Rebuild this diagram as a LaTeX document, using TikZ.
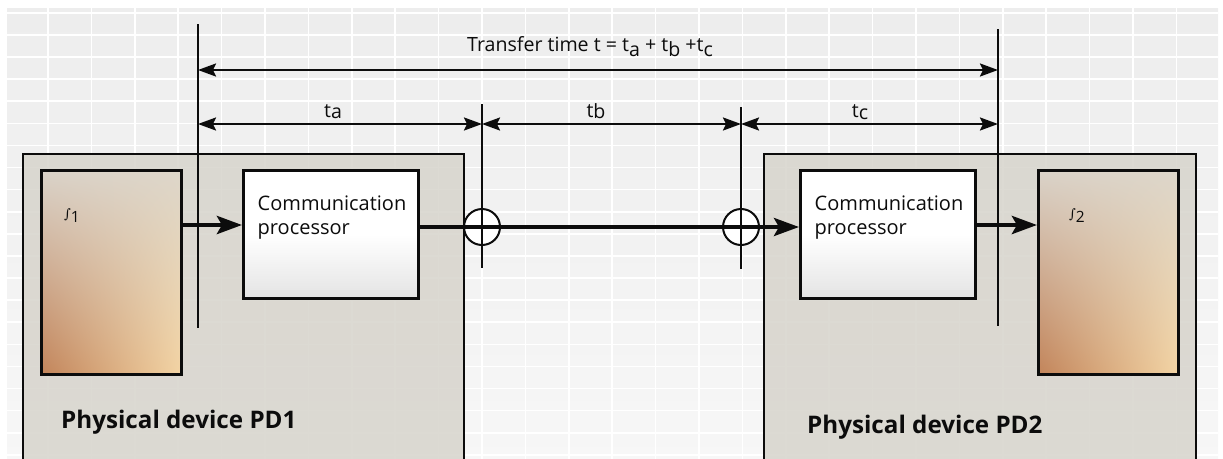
\documentclass[tikz,border=0pt]{standalone}
\usepackage{fontspec}
\setmainfont{Open Sans}
\newfontfamily\intfont{DejaVu Serif}
\usetikzlibrary{arrows.meta,calc,shadings}
\definecolor{bgtop}{HTML}{EDEDED}
\definecolor{bgbot}{HTML}{F7F7F7}
\definecolor{devfill}{HTML}{D7D4CC}
\definecolor{ink}{HTML}{0C0C0C}
\definecolor{srcul}{HTML}{DAD3C9}
\definecolor{srcur}{HTML}{DDD6CA}
\definecolor{srcll}{HTML}{C2845A}
\definecolor{srclr}{HTML}{F3D4A4}
\definecolor{combot}{HTML}{E4E4E4}
\begin{document}
\begin{tikzpicture}[x=1pt,y=-1pt,
  gridline/.style={white, line width=1.6pt},
  device/.style={draw=ink, line width=2pt, fill=devfill, fill opacity=0.85, draw opacity=1,
    anchor=north west, inner sep=0pt, minimum height=320pt},
  srcbox/.style={draw=ink, line width=2.5pt, anchor=north west, inner sep=0pt,
    minimum width=140pt, minimum height=204pt,
    upper left=srcul, upper right=srcur, lower left=srcll, lower right=srclr},
  combox/.style={draw=ink, line width=2.5pt, anchor=north west, inner sep=0pt,
    minimum width=175pt, minimum height=128pt,
    top color=white, bottom color=combot, middle color=white},
  comtext/.style={anchor=north west, inner sep=0pt, align=left, text=ink,
    font=\fontsize{20}{23.5}\selectfont},
  devtext/.style={anchor=base west, inner sep=0pt, text=ink,
    font=\fontsize{24.2}{28}\selectfont\bfseries},
  dimtext/.style={anchor=base, inner sep=0pt, text=ink, font=\fontsize{19.6}{23}\selectfont},
  inttext/.style={anchor=base west, inner sep=0pt, text=ink},
  vline/.style={draw=ink, line width=2pt},
  dim/.style={draw=ink, line width=2.2pt,
    {Stealth[length=18pt,width=13pt,inset=3pt]}-{Stealth[length=18pt,width=13pt,inset=3pt]}},
  flow/.style={draw=ink, line width=4.5pt, -{Stealth[length=25pt,width=18pt,inset=5pt]}},
  junction/.style={circle, draw=ink, line width=2pt, fill=white, minimum size=36pt, inner sep=0pt}
]
\useasboundingbox (0,0) rectangle (1223,458);
\clip (0,0) rectangle (1223,458);
% background with grid
\shade[top color=bgtop, bottom color=bgbot] (7,8) rectangle (1218,470);
\foreach \k in {1,...,27} \draw[gridline] ({4.6+43.4*\k},8) -- ({4.6+43.4*\k},470);
\foreach \k in {0,...,20} \draw[gridline] (7,{12.8+22.1*\k}) -- (1218,{12.8+22.1*\k});

% devices
\node[device, minimum width=441pt] (pd1) at (22,153) {};
\node[device, minimum width=432pt] (pd2) at (763,153) {};

% inner boxes
\node[srcbox] (src1) at (40,169) {};
\node[combox] (comm1) at (242,169) {};
\node[combox] (comm2) at (799,169) {};
\node[srcbox] (src2) at (1037,169) {};

% texts in boxes
\node[comtext] (t1) at ($(comm1.north west)+(15.5,27)$) {Communication\\processor};
\node[comtext] (t2) at ($(comm2.north west)+(15.5,27)$) {Communication\\processor};
\node[inttext] (i1) at (64,218) {{\intfont\fontsize{13}{13}\selectfont ∫}\raisebox{-4pt}{\fontsize{15.5}{16}\selectfont 1}};
\node[inttext] (i2) at (1069,218) {{\intfont\fontsize{13}{13}\selectfont ∫}\raisebox{-4pt}{\fontsize{15.5}{16}\selectfont 2}};
\node[devtext] (d1) at (61,428) {Physical device PD1};
\node[devtext] (d2) at (807,433) {Physical device PD2};

% reference coordinates
\coordinate (v1t) at (198,24);  \coordinate (v1b) at (198,328);
\coordinate (v2t) at (482,104); \coordinate (v2b) at (482,268);
\coordinate (v3t) at (741,107); \coordinate (v3b) at (741,269);
\coordinate (v4t) at (998,29);  \coordinate (v4b) at (998,326);
\coordinate (rowtop) at (0,70);
\coordinate (rowmid) at (0,124);
\coordinate (flowA) at (0,225);
\coordinate (flowB) at (0,227);

% junction circles
\node[junction] (j1) at (v2t |- flowB) {};
\node[junction] (j2) at (v3t |- flowB) {};

% flow connectors
\draw[flow] (src1.east |- flowA) -- (comm1.west |- flowA);
\draw[flow, line width=4pt] (comm1.east |- flowB) -- (comm2.west |- flowB);
\draw[flow] (comm2.east |- flowA) -- (src2.west |- flowA);

% vertical marker lines
\draw[vline] (v1t) -- (v1b);
\draw[vline] (v2t) -- (v2b);
\draw[vline] (v3t) -- (v3b);
\draw[vline] (v4t) -- (v4b);

% dimension arrows
\draw[dim] (v1t |- rowtop) -- (v4t |- rowtop);
\draw[dim] (v1t |- rowmid) -- (v2t |- rowmid);
\draw[dim] (v2t |- rowmid) -- (v3t |- rowmid);
\draw[dim] (v3t |- rowmid) -- (v4t |- rowmid);

% dimension labels
\node[dimtext] (ttot) at (590,51) {Transfer time t = t\raisebox{-5pt}{a} + t\raisebox{-5pt}{b} +t\raisebox{-5pt}{c}};
\node[dimtext] (ta) at (333,117) {t\raisebox{-1.5pt}{a}};
\node[dimtext] (tb) at (596,117) {t\raisebox{-1.5pt}{b}};
\node[dimtext] (tc) at (860,117) {t\raisebox{-2pt}{c}};
\end{tikzpicture}
\end{document}
